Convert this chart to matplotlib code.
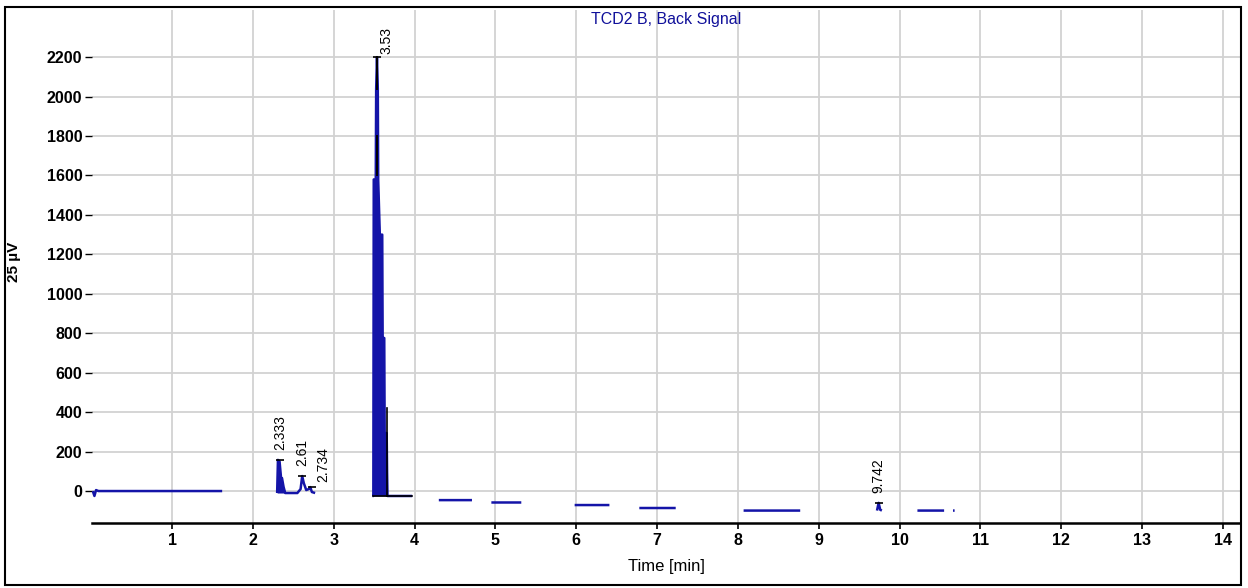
import numpy as np
import matplotlib.pyplot as plt
from matplotlib.patches import Rectangle

nan = np.nan

# TCD2 B back signal (min, 25 uV units); NaN = gap in trace
sig_t = [0.02, 0.04, 0.06, 0.09, 1.62, nan,
         2.30, 2.31, 2.33, 2.35, 2.36, 2.38, 2.40, 2.55, 2.59, 2.61, 2.63, 2.66, 2.69, 2.71, 2.73, 2.77, nan,
         3.48, 3.49, 3.495, 3.52, 3.525, 3.535, 3.545, 3.55, 3.57, 3.60, 3.605, 3.625, 3.63, 3.655, 3.66, 3.665, 3.97, nan,
         4.30, 4.71, nan, 4.95, 5.32, nan, 5.98, 6.41, nan, 6.78, 7.23, nan, 8.07, 8.77, nan,
         9.72, 9.74, 9.76, 9.78, nan, 10.22, 10.55, nan, 10.66, 10.68]
sig_v = [0, -25, 5, 0, 0, nan,
         -10, 158, 150, 60, 66, 20, -10, -10, 10, 76, 40, 5, 10, 20, -5, -10, nan,
         -25, -25, 1580, 1580, 2040, 2200, 2040, 1580, 1300, 1300, 776, 776, 294, 294, 96, -25, -25, nan,
         -46, -46, nan, -58, -58, nan, -71, -71, nan, -86, -86, nan, -99, -99, nan,
         -99, -60, -95, -99, nan, -99, -99, nan, -99, -99]

peak_rt = [2.333, 2.61, 2.734, 3.535, 9.742]
peak_h = [158, 76, 20, 2200, -60]
peak_lbl = ["2.333", "2.61", "2.734", "3.53", "9.742"]

xticks = list(range(1, 15))
yticks = list(range(0, 2201, 200))

blue = "#1414a8"
font = "Liberation Sans"

fig = plt.figure(figsize=(12.48, 5.88), dpi=100)
ax = fig.add_axes([92 / 1248, 1 - 523 / 588, 1148 / 1248, 513 / 588])

t = np.array(sig_t)
v = np.array(sig_v)
ax.plot(t, v, color=blue, lw=1.8, solid_capstyle="butt")
# fill the tall peaks so they read as solid like the reference
m = (t >= 2.30) & (t <= 2.40)
ax.fill_between(t[m], -10, v[m], color=blue, lw=0)
m = (t >= 3.48) & (t <= 3.665)
ax.fill_between(t[m], -25, v[m], color=blue, lw=0)

# integration baselines / drop lines
ax.plot([3.49, 3.97], [-25, -25], color="black", lw=1.2)
ax.plot([3.665, 3.665], [-25, 420], color="black", lw=1.2)
ax.plot([3.535, 3.535], [2040, 2200], color="black", lw=1.4)
ax.plot([3.53, 3.53], [1600, 1800], color="black", lw=1.4)

# apex ticks and retention time labels
offsets = [(0, 7), (0, 7), (8, 4), (7, 2), (0, 7)]
for rt, h, lbl, off in zip(peak_rt, peak_h, peak_lbl, offsets):
    ax.plot(rt, h, marker="_", color="black", ms=6, mew=1.2)
    ax.annotate(lbl, (rt, h), xytext=off, textcoords="offset points",
                rotation=90, ha="center", va="bottom", fontsize=10, family=font)

ax.set_xlim(0.01, 14.21)
ax.set_ylim(-162, 2439)
ax.set_xticks(xticks)
ax.set_yticks(yticks)
ax.grid(True, color="#d2d2d2", lw=1.3)
ax.set_axisbelow(True)

for s in ["left", "top", "right"]:
    ax.spines[s].set_visible(False)
ax.spines["bottom"].set_linewidth(1.8)
ax.tick_params(axis="x", length=4, width=1.2, direction="out", pad=3)
ax.tick_params(axis="y", length=5, width=1, direction="out", pad=2)
for lab in ax.get_xticklabels() + ax.get_yticklabels():
    lab.set_fontweight("bold")
    lab.set_fontsize(11.5)
    lab.set_family(font)

ax.set_xlabel("Time [min]", fontsize=12, family=font, labelpad=8)
ax.text(0.5, 0.997, "TCD2 B, Back Signal", transform=ax.transAxes, ha="center", va="top",
        color="#10109a", fontsize=11.5, family=font)
fig.text(14 / 1248, 1 - 262 / 588, "25 µV", rotation=90, ha="center", va="center",
         fontsize=11, fontweight="bold", family=font)

# outer frame of the screenshot
fig.patches.append(Rectangle((5 / 1248, 3 / 588), 1236 / 1248, 578 / 588, transform=fig.transFigure,
                             fill=False, edgecolor="black", lw=1.5))

fig.savefig("out.png", dpi=100)
